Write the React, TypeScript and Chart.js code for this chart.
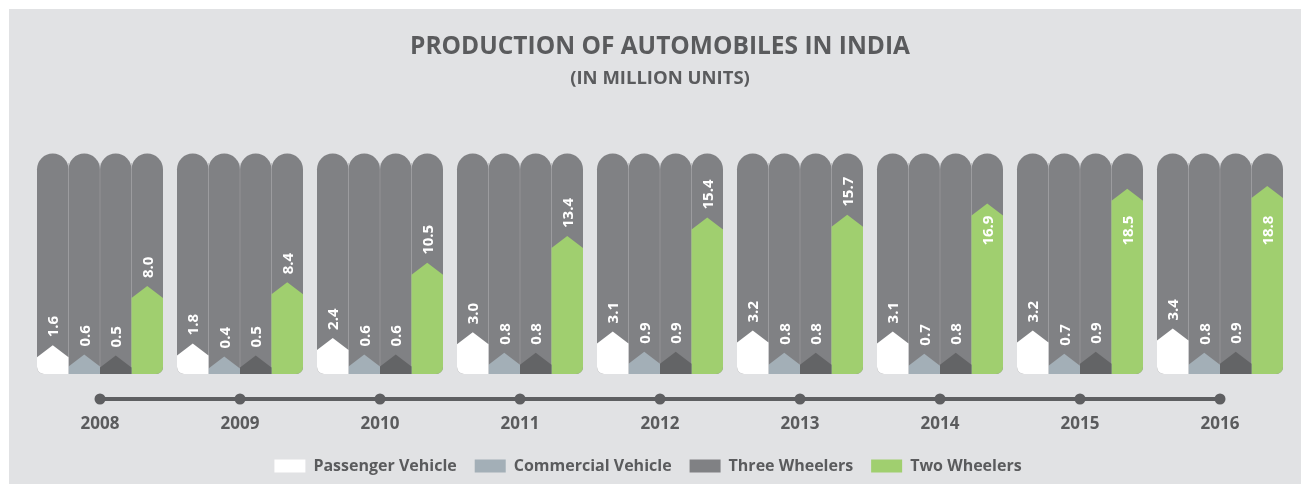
import React, { useEffect, useRef } from "react";
import { Chart, registerables } from "chart.js";

Chart.register(...registerables);

const categories = ["2008", "2009", "2010", "2011", "2012", "2013", "2014", "2015", "2016"];
const passengerVehicle = [1.6, 1.8, 2.4, 3.0, 3.1, 3.2, 3.1, 3.2, 3.4];
const commercialVehicle = [0.6, 0.4, 0.6, 0.8, 0.9, 0.8, 0.7, 0.7, 0.8];
const threeWheelers = [0.5, 0.5, 0.6, 0.8, 0.9, 0.8, 0.8, 0.9, 0.9];
const twoWheelers = [8.0, 8.4, 10.5, 13.4, 15.4, 15.7, 16.9, 18.5, 18.8];
const seriesLabels = ["Passenger Vehicle", "Commercial Vehicle", "Three Wheelers", "Two Wheelers"];
const barColors = ["#ffffff", "#a3afb7", "#636466", "#a0cf6f"];
const legendColors = ["#ffffff", "#a3afb7", "#808184", "#a0cf6f"];

const FONT = "'Open Sans', sans-serif";
const TEXT = "#5a5b5d";
const PANEL_BAR = "#808184";
const Y_MIN = -1.5;
const Y_MAX = 22.3;

function roundedBottomPath(ctx: CanvasRenderingContext2D, l: number, r: number, b: number, rl: number, rr: number) {
  ctx.lineTo(r, b - rr);
  if (rr > 0) ctx.arcTo(r, b, r - rr, b, rr);
  else ctx.lineTo(r, b);
  ctx.lineTo(l + rl, b);
  if (rl > 0) ctx.arcTo(l, b, l, b - rl, rl);
  else ctx.lineTo(l, b);
}

const shapesPlugin = {
  id: "shapes",
  afterLayout(chart: any) {
    const lg = chart.legend;
    if (lg) {
      lg.left -= 12;
      lg.right -= 12;
    }
  },
  beforeDatasetsDraw(chart: any) {
    const ctx = chart.ctx as CanvasRenderingContext2D;
    const area = chart.chartArea;
    const n = chart.data.datasets.length;
    ctx.save();
    for (let d = 0; d < n; d++) {
      const meta = chart.getDatasetMeta(d);
      meta.data.forEach((el: any) => {
        const l = el.x - el.width / 2;
        const r = el.x + el.width / 2;
        const rad = el.width / 2;
        const top = area.top;
        const b = area.bottom;
        ctx.beginPath();
        ctx.moveTo(l, top + rad);
        ctx.arc(el.x, top + rad, rad, Math.PI, 0);
        roundedBottomPath(ctx, l, r, b, d === 0 ? 7 : 0, d === n - 1 ? 7 : 0);
        ctx.closePath();
        ctx.fillStyle = PANEL_BAR;
        ctx.fill();
        if (d > 0) {
          ctx.beginPath();
          ctx.moveTo(l, top + rad * 0.6);
          ctx.lineTo(l, b);
          ctx.strokeStyle = "rgba(160,161,164,0.55)";
          ctx.lineWidth = 1;
          ctx.stroke();
        }
      });
    }
    ctx.restore();
  },
  beforeDatasetDraw(chart: any, args: any) {
    const ctx = chart.ctx as CanvasRenderingContext2D;
    const d = args.index;
    const n = chart.data.datasets.length;
    const meta = args.meta;
    const color = chart.data.datasets[d].backgroundColor;
    ctx.save();
    meta.data.forEach((el: any) => {
      const l = el.x - el.width / 2;
      const r = el.x + el.width / 2;
      const tipH = 12;
      const b = el.base;
      ctx.beginPath();
      ctx.moveTo(l, el.y + tipH);
      ctx.lineTo(el.x, el.y);
      ctx.lineTo(r, el.y + tipH);
      roundedBottomPath(ctx, l, r, b, d === 0 ? 7 : 0, d === n - 1 ? 7 : 0);
      ctx.closePath();
      ctx.fillStyle = color;
      ctx.fill();
    });
    ctx.restore();
    return false;
  },
  afterDatasetsDraw(chart: any) {
    const ctx = chart.ctx as CanvasRenderingContext2D;
    const area = chart.chartArea;
    ctx.save();
    ctx.fillStyle = "#ffffff";
    ctx.font = `bold 15px ${FONT}`;
    ctx.textBaseline = "middle";
    chart.data.datasets.forEach((ds: any, d: number) => {
      const meta = chart.getDatasetMeta(d);
      meta.data.forEach((el: any, i: number) => {
        const v = ds.data[i];
        const txt = v.toFixed(1);
        ctx.save();
        if (v > 16) {
          ctx.translate(el.x + 1, Math.max(el.y + 6, area.top + 62));
          ctx.rotate(-Math.PI / 2);
          ctx.textAlign = "right";
        } else {
          ctx.translate(el.x + 1, el.y - 8);
          ctx.rotate(-Math.PI / 2);
          ctx.textAlign = "left";
        }
        ctx.fillText(txt, 0, 0);
        ctx.restore();
      });
    });
    // timeline
    const xs = chart.scales.x;
    const y = area.bottom + 25;
    const x0 = xs.getPixelForTick(0);
    const x1 = xs.getPixelForTick(categories.length - 1);
    ctx.strokeStyle = "#5e5f61";
    ctx.fillStyle = "#5e5f61";
    ctx.lineWidth = 4;
    ctx.beginPath();
    ctx.moveTo(x0, y);
    ctx.lineTo(x1, y);
    ctx.stroke();
    for (let i = 0; i < categories.length; i++) {
      ctx.beginPath();
      ctx.arc(xs.getPixelForTick(i), y, 5.5, 0, Math.PI * 2);
      ctx.fill();
    }
    ctx.restore();
  },
};

export default function App() {
  const ref = useRef<HTMLCanvasElement>(null);
  useEffect(() => {
    const series = [passengerVehicle, commercialVehicle, threeWheelers, twoWheelers];
    const chart = new Chart(ref.current!, {
      type: "bar",
      data: {
        labels: categories,
        datasets: series.map((s, i) => ({
          label: seriesLabels[i],
          data: s,
          backgroundColor: barColors[i],
          base: Y_MIN,
          categoryPercentage: 0.9,
          barPercentage: 1.0,
        })),
      },
      options: {
        animation: false,
        responsive: true,
        maintainAspectRatio: false,
        layout: { padding: { left: 21, right: 11, top: 0, bottom: 0 } },
        scales: {
          x: {
            grid: { display: false },
            border: { display: false },
            ticks: { font: { family: FONT, size: 17, weight: "bold" }, color: TEXT, padding: 32 },
            afterFit: (scale: any) => {
              scale.height = 66;
            },
          },
          y: { display: false, min: Y_MIN, max: Y_MAX },
        },
        plugins: {
          title: {
            display: true,
            text: "PRODUCTION OF AUTOMOBILES IN INDIA",
            color: TEXT,
            font: { family: FONT, size: 24.5, weight: "bold" },
            padding: { top: 23, bottom: 5 },
          },
          subtitle: {
            display: true,
            text: "(IN MILLION UNITS)",
            color: TEXT,
            font: { family: FONT, size: 18.5, weight: "bold" },
            padding: { top: 1, bottom: 64 },
          },
          legend: {
            position: "bottom",
            labels: {
              boxWidth: 31,
              boxHeight: 13,
              padding: 18,
              color: TEXT,
              font: { family: FONT, size: 16, weight: "bold" },
              generateLabels: (c: any) =>
                c.data.datasets.map((ds: any, i: number) => ({
                  text: ds.label,
                  fillStyle: legendColors[i],
                  strokeStyle: legendColors[i],
                  lineWidth: 0,
                  hidden: false,
                  datasetIndex: i,
                  fontColor: TEXT,
                })),
            },
          },
          tooltip: { enabled: false },
        },
      },
      plugins: [shapesPlugin],
    } as any);
    return () => chart.destroy();
  }, []);
  return (
    <div style={{ position: "fixed", left: 0, top: 0, width: 1301, height: 484, background: "#ffffff" }}>
      <div style={{ position: "absolute", left: 9, top: 9, width: 1292, height: 475, background: "#e1e2e4" }}>
        <canvas ref={ref} />
      </div>
    </div>
  );
}
